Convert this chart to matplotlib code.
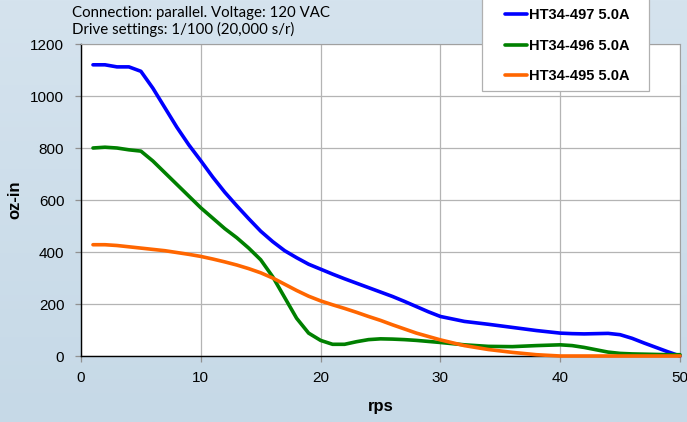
import numpy as np
import matplotlib
matplotlib.use("Agg")
import matplotlib.pyplot as plt
from matplotlib.patches import Rectangle

# torque curves (rps vs oz-in)
rps = [1, 2, 3, 4, 5, 6, 7, 8, 9, 10, 11, 12, 13, 14, 15, 16, 17, 18, 19, 20,
       21, 22, 23, 24, 25, 26, 27, 28, 29, 30, 32, 34, 36, 38, 40, 41, 42, 44,
       45, 46, 47, 48, 49, 50]
ht497 = [1120, 1120, 1112, 1112, 1095, 1030, 955, 880, 812, 751, 688, 630, 578,
         528, 480, 440, 405, 378, 353, 334, 315, 297, 280, 263, 246, 229, 210,
         190, 170, 152, 133, 122, 110, 98, 88, 86, 85, 87, 82, 68, 50, 33, 16, 0]
ht496 = [800, 803, 800, 793, 788, 750, 705, 660, 615, 570, 530, 490, 455, 415,
         370, 305, 225, 145, 88, 60, 45, 45, 55, 63, 66, 65, 63, 60, 56, 52, 43,
         37, 36, 40, 43, 40, 33, 15, 10, 8, 7, 6, 5, 5]
ht495 = [428, 428, 425, 420, 415, 410, 405, 398, 391, 383, 373, 362, 350, 336,
         320, 300, 276, 252, 230, 212, 197, 183, 168, 152, 137, 120, 104, 88,
         75, 62, 40, 25, 14, 5, 0, 0, 0, 0, 0, 0, 0, 0, 0, 0]
labels = ["HT34-497 5.0A", "HT34-496 5.0A", "HT34-495 5.0A"]
colors = ["#0000ff", "#008000", "#ff6600"]

W, H = 687, 422
fig = plt.figure(figsize=(W / 100, H / 100), dpi=100)

# light blue gradient background
bg = fig.add_axes([0, 0, 1, 1], zorder=-10)
grad = np.linspace(0, 1, 256).reshape(-1, 1)
bg.imshow(grad, aspect="auto", extent=[0, 1, 0, 1],
          cmap=matplotlib.colors.LinearSegmentedColormap.from_list(
              "bg", ["#d5e3ee", "#c6d9e7"]))
bg.axis("off")

ax = fig.add_axes([81 / W, 1 - 356 / H, (680 - 81) / W, (356 - 44) / H])
ax.set_facecolor("white")

for y, lab, c in zip([ht497, ht496, ht495], labels, colors):
    ax.plot(rps, y, color=c, lw=2.6, label=lab, solid_capstyle="round",
            solid_joinstyle="round", clip_on=False, zorder=3)

ax.set_xlim(0, 50)
ax.set_ylim(0, 1200)
ax.set_xticks(range(0, 51, 10))
ax.set_yticks(range(0, 1201, 200))
ax.grid(True, color="#b4b4b4", lw=0.9)
ax.set_axisbelow(True)

for s in ["top", "right"]:
    ax.spines[s].set_color("#a0a0a0")
for s in ["left", "bottom"]:
    ax.spines[s].set_color("black")
    ax.spines[s].set_linewidth(1.0)

ax.tick_params(axis="both", direction="out", length=4, color="#909090",
               labelsize=11, width=0.9)
ax.tick_params(axis="y", pad=8)
ax.tick_params(axis="x", pad=7)
for t in ax.get_xticklabels() + ax.get_yticklabels():
    t.set_family("Liberation Sans")

ax.set_xlabel("rps", fontsize=12, fontweight="bold", family="Liberation Sans",
              labelpad=10)
ax.set_ylabel("oz-in", fontsize=12, fontweight="bold", family="Liberation Sans",
              labelpad=6)

fig.text(72 / W, 1 - 6 / H,
         "Connection: parallel. Voltage: 120 VAC\nDrive settings: 1/100 (20,000 s/r)",
         ha="left", va="top", fontsize=10.8, family="Lato", linespacing=1.12)

# legend box
fig.patches.append(Rectangle((482 / W, 1 - 91 / H), (649 - 482) / W, 100 / H,
                             transform=fig.transFigure, facecolor="white",
                             edgecolor="#b0b0b0", lw=0.9, zorder=5))
leg = fig.legend(loc="upper left", bbox_to_anchor=(498 / W, 1 - 1 / H),
                 frameon=False, borderpad=0, handlelength=1.5,
                 handletextpad=0.15, labelspacing=1.12,
                 prop={"family": "Liberation Sans", "weight": "bold", "size": 10.5})
leg.set_zorder(6)

fig.savefig("out.png", dpi=100)
